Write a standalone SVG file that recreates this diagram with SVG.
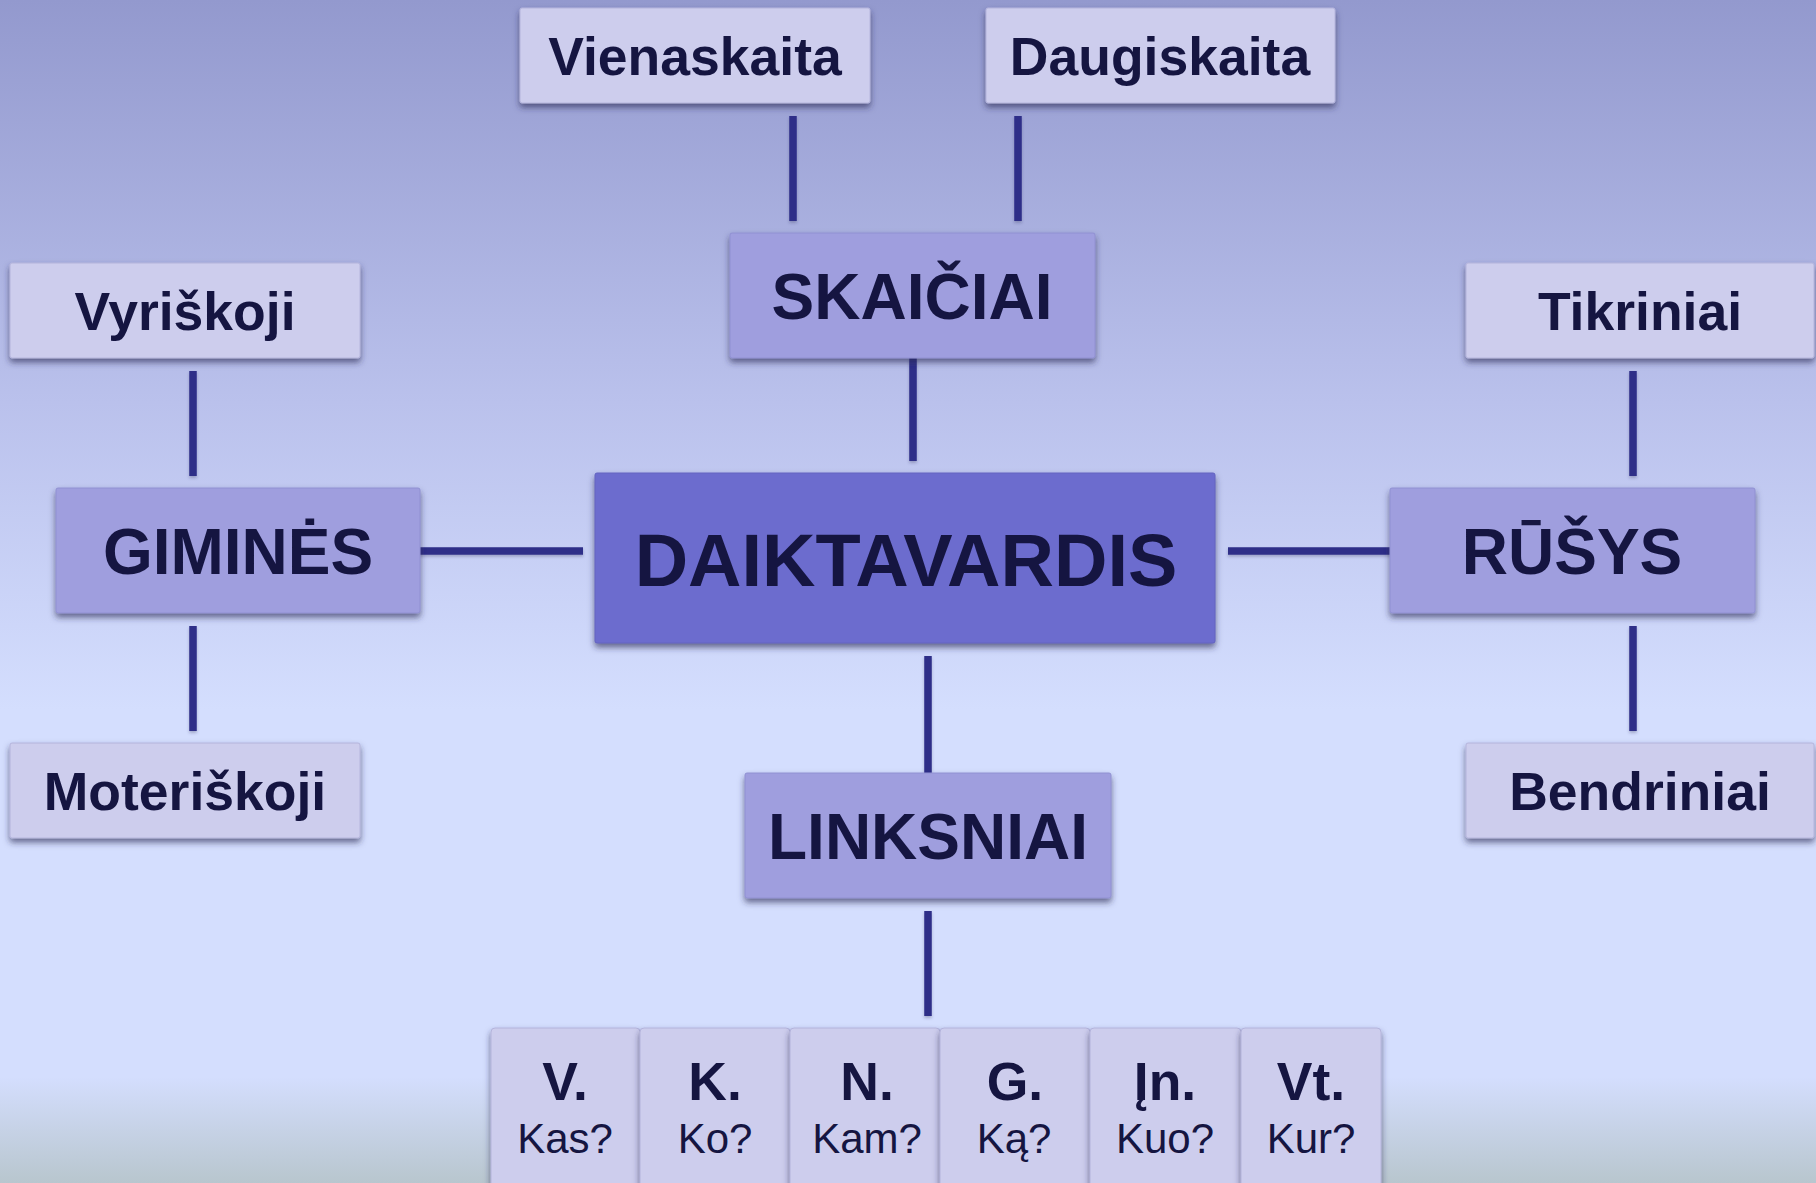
<svg xmlns="http://www.w3.org/2000/svg" width="1816" height="1183" viewBox="0 0 1816 1183">
<defs>
<linearGradient id="bg" gradientUnits="userSpaceOnUse" x1="0" y1="0" x2="0" y2="1183">
<stop offset="0" stop-color="#9399CE"/>
<stop offset="0.34" stop-color="#BAC1EC"/>
<stop offset="0.6" stop-color="#D4DEFE"/>
<stop offset="0.91" stop-color="#D4DEFE"/>
<stop offset="1" stop-color="#B8C6CE"/>
</linearGradient>
<filter id="sh" x="-10%" y="-20%" width="120%" height="150%">
<feDropShadow dx="0" dy="4" stdDeviation="3" flood-color="#2A2C55" flood-opacity="0.65"/>
</filter>
<filter id="lsh" x="-50%" y="-20%" width="200%" height="150%">
<feDropShadow dx="0" dy="2" stdDeviation="1.5" flood-color="#2A2C55" flood-opacity="0.3"/>
</filter>
</defs>
<style>
.light{fill:#CDCDED;stroke:#B4B4DC;stroke-width:1;filter:url(#sh)}
.mid{fill:#9F9EDE;stroke:#9090D2;stroke-width:1;filter:url(#sh)}
.main{fill:#6C6CCE;stroke:#6262C0;stroke-width:1;filter:url(#sh)}
.t{font-family:"Liberation Sans",Arial,sans-serif;font-weight:bold;fill:#151541;text-anchor:middle}
.s{font-size:53.5px}
.m{font-size:64px}
.q{font-family:"Liberation Sans",Arial,sans-serif;font-size:42px;fill:#151541;text-anchor:middle}
.c{stroke:#2E2E88;stroke-width:7.5;fill:none}
</style>
<rect x="0" y="0" width="1816" height="1183" fill="url(#bg)"/>
<g id="connectors" filter="url(#lsh)">
<line class="c" x1="793" y1="116" x2="793" y2="221"/>
<line class="c" x1="1018" y1="116" x2="1018" y2="221"/>
<line class="c" x1="913" y1="358" x2="913" y2="461"/>
<line class="c" x1="193" y1="371" x2="193" y2="476"/>
<line class="c" x1="1633" y1="371" x2="1633" y2="476"/>
<line class="c" x1="418" y1="551" x2="583" y2="551"/>
<line class="c" x1="1228" y1="551" x2="1393" y2="551"/>
<line class="c" x1="193" y1="626" x2="193" y2="731"/>
<line class="c" x1="1633" y1="626" x2="1633" y2="731"/>
<line class="c" x1="928" y1="656" x2="928" y2="776"/>
<line class="c" x1="928" y1="911" x2="928" y2="1016"/>
</g>
<g id="vienaskaita"><rect class="light" x="520" y="8" width="350" height="95" rx="2"/><text class="t s" x="695" y="75">Vienaskaita</text></g>
<g id="daugiskaita"><rect class="light" x="986" y="8" width="349" height="95" rx="2"/><text class="t s" x="1160" y="75">Daugiskaita</text></g>
<g id="skaiciai"><rect class="mid" x="730" y="233" width="365" height="125" rx="2"/><text class="t m" x="912" y="319">SKAIČIAI</text></g>
<g id="vyriskoji"><rect class="light" x="10" y="263" width="350" height="95" rx="2"/><text class="t s" x="185" y="330">Vyriškoji</text></g>
<g id="tikriniai"><rect class="light" x="1466" y="263" width="348" height="95" rx="2"/><text class="t s" x="1640" y="330">Tikriniai</text></g>
<g id="gimines"><rect class="mid" x="56" y="488" width="364" height="125" rx="2"/><text class="t m" x="238" y="574">GIMINĖS</text></g>
<g id="daiktavardis"><rect class="main" x="595" y="473" width="620" height="170" rx="2"/><text class="t" style="font-size:74px" x="906" y="586">DAIKTAVARDIS</text></g>
<g id="rusys"><rect class="mid" x="1390" y="488" width="365" height="125" rx="2"/><text class="t m" x="1572" y="574">RŪŠYS</text></g>
<g id="moteriskoji"><rect class="light" x="10" y="743" width="350" height="95" rx="2"/><text class="t s" x="185" y="810">Moteriškoji</text></g>
<g id="bendriniai"><rect class="light" x="1466" y="743" width="348" height="95" rx="2"/><text class="t s" x="1640" y="810">Bendriniai</text></g>
<g id="linksniai"><rect class="mid" x="745" y="773" width="366" height="125" rx="2"/><text class="t m" x="928" y="859">LINKSNIAI</text></g>
<g id="case-v"><rect class="light" x="491" y="1028" width="149" height="180" rx="4"/><text class="t s" x="565" y="1100">V.</text><text class="q" x="565" y="1153">Kas?</text></g>
<g id="case-k"><rect class="light" x="640" y="1028" width="150" height="180" rx="4"/><text class="t s" x="715" y="1100">K.</text><text class="q" x="715" y="1153">Ko?</text></g>
<g id="case-n"><rect class="light" x="790" y="1028" width="150" height="180" rx="4"/><text class="t s" x="867" y="1100">N.</text><text class="q" x="867" y="1153">Kam?</text></g>
<g id="case-g"><rect class="light" x="940" y="1028" width="150" height="180" rx="4"/><text class="t s" x="1015" y="1100">G.</text><text class="q" x="1014" y="1153">Ką?</text></g>
<g id="case-in"><rect class="light" x="1090" y="1028" width="151" height="180" rx="4"/><text class="t s" x="1165" y="1100">Įn.</text><text class="q" x="1165" y="1153">Kuo?</text></g>
<g id="case-vt"><rect class="light" x="1241" y="1028" width="140" height="180" rx="4"/><text class="t s" x="1311" y="1100">Vt.</text><text class="q" x="1311" y="1153">Kur?</text></g>
</svg>
